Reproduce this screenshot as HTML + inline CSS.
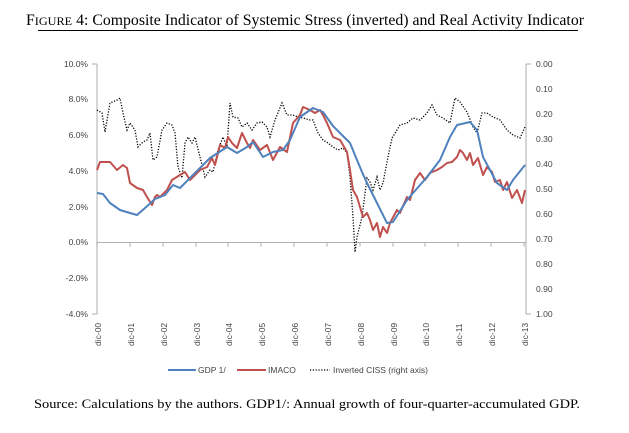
<!DOCTYPE html>
<html><head><style>
body{margin:0;background:#fff;width:629px;height:428px;overflow:hidden;font-family:"Liberation Serif",serif;}
</style></head><body>
<svg width="629" height="428" xmlns="http://www.w3.org/2000/svg">
<text x="26" y="25" font-family="Liberation Serif" font-size="15.5" fill="#000" textLength="558" lengthAdjust="spacingAndGlyphs"><tspan font-size="15.5">F</tspan><tspan font-size="12">IGURE</tspan> 4: Composite Indicator of Systemic Stress (inverted) and Real Activity Indicator</text>
<line x1="38" y1="30.5" x2="578" y2="30.5" stroke="#000" stroke-width="1"/>
<g font-family="Liberation Sans" font-size="8.5" fill="#444">
<text x="88" y="67" text-anchor="end">10.0%</text>
<text x="88" y="102" text-anchor="end">8.0%</text>
<text x="88" y="138" text-anchor="end">6.0%</text>
<text x="88" y="174" text-anchor="end">4.0%</text>
<text x="88" y="210" text-anchor="end">2.0%</text>
<text x="88" y="245" text-anchor="end">0.0%</text>
<text x="88" y="281" text-anchor="end">-2.0%</text>
<text x="88" y="317" text-anchor="end">-4.0%</text>
<text x="536" y="67">0.00</text><text x="536" y="92">0.10</text><text x="536" y="117">0.20</text><text x="536" y="142">0.30</text><text x="536" y="167">0.40</text><text x="536" y="192">0.50</text><text x="536" y="217">0.60</text><text x="536" y="242">0.70</text><text x="536" y="267">0.80</text><text x="536" y="292">0.90</text><text x="536" y="317">1.00</text>
</g>
<g stroke="#999" stroke-width="0.8" fill="none">
<line x1="97" y1="64" x2="97" y2="314"/>
<line x1="92" y1="64" x2="97" y2="64"/><line x1="92" y1="314" x2="97" y2="314"/>
<line x1="526" y1="64" x2="526" y2="314"/>
<line x1="526" y1="64" x2="531" y2="64"/><line x1="526" y1="314" x2="531" y2="314"/>
<line x1="97" y1="242.6" x2="526" y2="242.6"/>
<path d="M97 242.6v4M130 242.6v4M163 242.6v4M196 242.6v4M228 242.6v4M261 242.6v4M294 242.6v4M327 242.6v4M360 242.6v4M393 242.6v4M425 242.6v4M458 242.6v4M491 242.6v4M524 242.6v4"/>
</g>
<g font-family="Liberation Sans" font-size="8.5" fill="#444">
<text transform="translate(101,346) rotate(-90)">dic-00</text>
<text transform="translate(134,346) rotate(-90)">dic-01</text>
<text transform="translate(167,346) rotate(-90)">dic-02</text>
<text transform="translate(200,346) rotate(-90)">dic-03</text>
<text transform="translate(232,346) rotate(-90)">dic-04</text>
<text transform="translate(265,346) rotate(-90)">dic-05</text>
<text transform="translate(298,346) rotate(-90)">dic-06</text>
<text transform="translate(331,346) rotate(-90)">dic-07</text>
<text transform="translate(364,346) rotate(-90)">dic-08</text>
<text transform="translate(397,346) rotate(-90)">dic-09</text>
<text transform="translate(429,346) rotate(-90)">dic-10</text>
<text transform="translate(462,346) rotate(-90)">dic-11</text>
<text transform="translate(495,346) rotate(-90)">dic-12</text>
<text transform="translate(528,346) rotate(-90)">dic-13</text>
</g>
<polyline fill="none" stroke="#000" stroke-width="1.3" stroke-dasharray="1.2,1.6" points="97,110 102,113 105,132 110,103 117,100 120,98 123,113 127,130 130,123 135,130 138,147 143,142 147,140 150,133 153,160 157,157 162,130 167,123 172,125 175,133 178,167 182,178 185,143 188,137 192,143 195,137 200,157 205,177 210,170 213,172 218,150 223,137 227,147 230,103 233,117 238,118 242,127 247,123 252,130 257,123 262,122 267,127 270,137 275,120 282,103 287,115 293,115 298,117 303,118 310,120 313,120 318,133 323,140 328,143 333,147 338,150 343,148 347,153 350,177 353,217 355,252 357,237 362,217 367,178 370,182 373,190 377,177 380,190 383,183 388,157 392,138 397,130 400,125 407,123 413,118 420,120 427,113 432,105 437,115 443,118 450,123 455,98 460,102 467,112 473,127 477,133 482,113 487,113 493,117 500,120 507,130 513,135 520,138 525,127"/>
<polyline fill="none" stroke="#c0504d" stroke-width="2" stroke-linejoin="round" points="97,170 100,162 110,162 117,170 123,165 127,168 130,183 137,188 143,190 147,197 152,205 155,197 157,195 160,197 167,190 172,180 180,175 185,172 190,180 200,170 207,167 212,158 215,165 220,145 225,148 228,137 232,143 237,148 242,133 247,143 250,148 253,140 260,150 267,145 273,160 280,147 287,152 293,123 300,115 303,107 310,110 315,113 320,110 323,115 327,123 333,137 340,140 343,145 347,152 350,170 353,190 357,197 360,207 363,217 367,213 370,220 373,230 377,223 380,237 383,227 387,233 390,223 397,210 400,213 407,197 410,200 415,180 420,173 425,180 430,173 437,170 442,167 447,163 452,162 457,157 460,150 463,153 467,160 470,153 473,165 478,158 483,175 487,167 492,172 495,182 500,180 503,190 507,182 512,198 517,190 522,203 525,190"/>
<polyline fill="none" stroke="#4f81bd" stroke-width="2" stroke-linejoin="round" points="97,193 103,194 110,203 120,210 130,213 137,215 145,208 155,199 165,195 173,185 180,188 193,175 210,158 227,147 237,153 247,147 253,142 263,157 273,152 283,150 290,140 300,117 313,108 323,112 333,126 343,136 350,143 357,160 362,172 367,183 377,203 387,223 393,222 407,200 427,177 440,160 450,137 457,125 470,122 477,130 483,157 497,183 507,190 513,180 525,165"/>
<line x1="168" y1="370" x2="196" y2="370" stroke="#4f81bd" stroke-width="2"/>
<line x1="237" y1="370" x2="266" y2="370" stroke="#c0504d" stroke-width="2"/>
<line x1="310" y1="370" x2="330" y2="370" stroke="#000" stroke-width="1.3" stroke-dasharray="1.2,1.6"/>
<g font-family="Liberation Sans" font-size="8.5" fill="#444">
<text x="198" y="373">GDP 1/</text>
<text x="268" y="373">IMACO</text>
<text x="333" y="373">Inverted CISS (right axis)</text>
</g>
<text x="34" y="408" font-family="Liberation Serif" font-size="13" fill="#000" textLength="546" lengthAdjust="spacingAndGlyphs">Source: Calculations by the authors. GDP1/: Annual growth of four-quarter-accumulated GDP.</text>
</svg>
</body></html>
